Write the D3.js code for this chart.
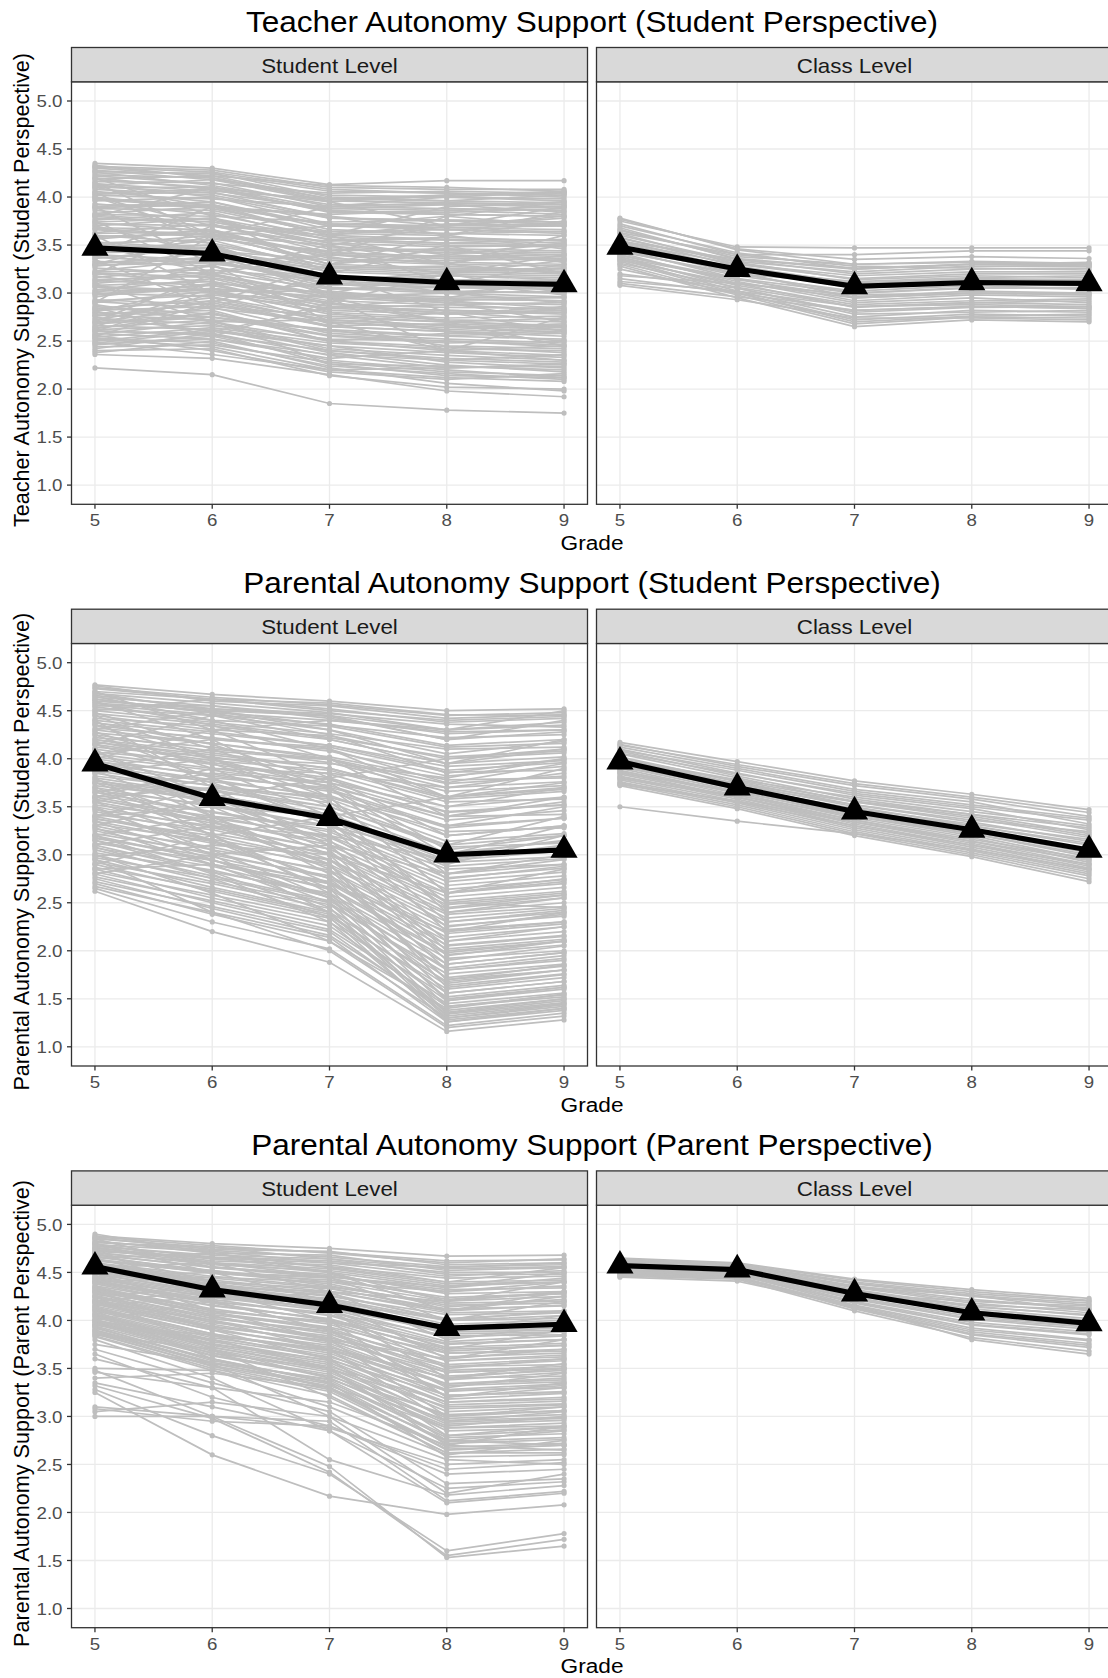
<!DOCTYPE html>
<html><head><meta charset="utf-8">
<script src="https://cdn.jsdelivr.net/npm/d3@7"></script>
<style>body{margin:0;background:#fff} text{font-family:"Liberation Sans",Arial,sans-serif}</style>
</head><body>
<svg id="c" width="1108" height="1678"></svg>
<script>
const grades = [5, 6, 7, 8, 9];
const yTicks = [1.0, 1.5, 2.0, 2.5, 3.0, 3.5, 4.0, 4.5, 5.0];
const facetLabels = ["Student Level", "Class Level"];
const chartTitles = ["Teacher Autonomy Support (Student Perspective)", "Parental Autonomy Support (Student Perspective)", "Parental Autonomy Support (Parent Perspective)"];
const yTitles = ["Teacher Autonomy Support (Student Perspective)", "Parental Autonomy Support (Student Perspective)", "Parental Autonomy Support (Parent Perspective)"];
const xTitle = "Grade";

// mean trajectories (black)
const teacherStudentMean = [3.47, 3.41, 3.17, 3.11, 3.09];
const teacherClassMean   = [3.48, 3.25, 3.07, 3.11, 3.10];
const parentStuStudentMean = [3.95, 3.59, 3.38, 3.00, 3.05];
const parentStuClassMean   = [3.97, 3.70, 3.45, 3.26, 3.05];
const parentParStudentMean = [4.56, 4.32, 4.16, 3.92, 3.96];
const parentParClassMean   = [4.57, 4.53, 4.28, 4.08, 3.97];

// individual trajectories (grey), values at grades 5..9
const teacherStudentLines = [
[2.22,2.15,1.85,1.78,1.75],[2.36,2.32,2.15,1.98,1.92],[2.40,2.42,2.14,2.02,2.00],[2.38,2.50,2.22,2.06,1.98],
[4.35,4.30,4.13,4.17,4.17],[4.32,4.28,4.10,4.08,4.08],[4.30,4.22,4.12,4.10,4.06],
[2.46,2.55,2.30,2.20,2.12],[2.50,2.62,2.38,2.25,2.18],[2.53,2.48,2.24,2.16,2.10],[2.57,2.70,2.42,2.35,2.30],
[2.60,2.58,2.35,2.22,2.26],[2.63,2.80,2.50,2.44,2.38],[2.66,2.62,2.45,2.38,2.33],[2.70,2.85,2.58,2.52,2.48],
[2.73,2.68,2.40,2.30,2.36],[2.76,2.90,2.65,2.60,2.55],[2.80,2.75,2.55,2.48,2.50],[2.83,2.95,2.70,2.62,2.66],
[2.86,2.78,2.60,2.55,2.52],[2.90,3.02,2.78,2.72,2.70],[2.93,2.88,2.65,2.60,2.62],[2.96,3.10,2.82,2.78,2.80],
[3.00,2.96,2.74,2.70,2.66],[3.03,3.15,2.88,2.85,2.84],[3.06,3.00,2.80,2.74,2.76],[3.10,3.20,2.95,2.90,2.88],
[3.13,3.08,2.86,2.82,2.80],[3.16,3.28,3.00,2.96,2.95],[3.20,3.12,2.92,2.88,2.90],[3.23,3.35,3.06,3.02,3.00],
[3.26,3.20,2.98,2.94,2.92],[3.30,3.42,3.12,3.08,3.06],[3.33,3.28,3.05,3.00,3.02],[3.36,3.48,3.18,3.14,3.12],
[3.40,3.34,3.10,3.06,3.04],[3.43,3.55,3.24,3.20,3.18],[3.46,3.40,3.16,3.12,3.14],[3.50,3.60,3.30,3.26,3.24],
[3.53,3.46,3.22,3.18,3.16],[3.56,3.66,3.36,3.32,3.30],[3.60,3.52,3.28,3.24,3.26],[3.63,3.72,3.42,3.38,3.36],
[3.66,3.58,3.34,3.30,3.28],[3.70,3.78,3.48,3.44,3.42],[3.73,3.64,3.40,3.36,3.38],[3.76,3.84,3.55,3.50,3.48],
[3.80,3.70,3.46,3.42,3.40],[3.83,3.90,3.60,3.56,3.55],[3.86,3.76,3.52,3.48,3.50],[3.90,3.95,3.66,3.62,3.60],
[3.93,3.82,3.58,3.55,3.52],[3.96,4.00,3.72,3.68,3.66],[4.00,3.88,3.64,3.62,3.64],[4.03,4.05,3.78,3.75,3.72],
[4.06,3.95,3.70,3.68,3.70],[4.10,4.10,3.84,3.82,3.80],[4.13,4.00,3.78,3.76,3.74],[4.16,4.15,3.90,3.88,3.86],
[4.20,4.08,3.85,3.84,3.88],[4.23,4.20,3.96,3.94,3.92],[4.26,4.12,3.92,3.92,3.90],[4.28,4.18,4.02,4.00,3.98],
[2.70,3.20,3.50,3.70,3.90],[4.20,3.80,3.20,2.80,2.60],[2.90,3.60,3.90,4.00,4.05],[3.90,3.30,2.70,2.40,2.30],
[2.55,2.90,3.30,3.60,3.75],[4.05,3.50,2.95,2.70,2.45],[3.20,3.70,3.60,3.30,3.50],[3.75,3.20,3.40,3.80,3.95],
[2.65,3.05,2.95,2.40,2.75],[4.15,3.60,3.50,3.10,3.30],[3.35,2.85,3.20,3.50,3.20],[2.85,2.55,2.90,3.20,3.40],
[2.48,2.60,2.45,2.28,2.22],[2.58,2.52,2.32,2.40,2.35],[2.68,2.75,2.62,2.45,2.42],[2.78,2.82,2.50,2.58,2.60],
[2.88,2.70,2.72,2.66,2.58],[2.98,3.05,2.68,2.80,2.72],[3.08,3.12,2.90,2.78,2.86],[3.18,3.02,3.02,2.92,2.84],
[3.28,3.38,3.08,3.12,2.98],[3.38,3.30,3.20,3.00,3.10],[3.48,3.50,3.12,3.22,3.20],[3.58,3.62,3.38,3.20,3.34],
[3.68,3.66,3.30,3.46,3.32],[3.78,3.74,3.52,3.40,3.52],[3.88,3.86,3.62,3.60,3.46],[3.98,3.92,3.60,3.72,3.70],
[4.08,4.02,3.80,3.70,3.78],[4.18,4.10,3.88,3.92,3.84],[4.25,4.25,4.00,3.96,4.02],[4.12,4.18,3.95,4.02,4.04],
[2.62,2.66,2.52,2.50,2.44],[2.72,2.92,2.66,2.68,2.64],[2.82,2.86,2.76,2.70,2.74],[2.92,2.98,2.84,2.88,2.82],
[3.02,3.04,2.96,3.00,2.96],[3.12,3.22,3.04,3.06,3.08],[3.22,3.24,3.14,3.18,3.14],[3.32,3.36,3.26,3.28,3.22],
[3.42,3.44,3.34,3.34,3.36],[3.52,3.56,3.44,3.46,3.44],[3.62,3.64,3.54,3.58,3.54],[3.72,3.70,3.64,3.66,3.62],
[3.82,3.80,3.74,3.76,3.74],[3.92,3.90,3.82,3.86,3.82],[4.02,3.98,3.90,3.94,3.92],[4.14,4.06,3.98,4.00,3.96],
[2.52,2.44,2.20,2.12,2.08],[2.44,2.46,2.28,2.18,2.14],[2.56,2.40,2.18,2.10,2.16],[2.64,2.72,2.26,2.24,2.20],
[3.70,3.40,3.00,2.90,2.70],[3.00,3.30,3.40,3.30,3.60],[4.00,3.70,3.50,3.30,3.20],[2.80,3.10,3.00,3.20,3.00],
[3.50,3.20,2.80,2.60,2.50],[3.30,3.60,3.70,3.80,3.70],[2.75,2.60,2.85,2.95,3.15],[4.10,3.90,3.60,3.90,3.95],
[2.47,2.52,2.36,2.30,2.26],[2.54,2.64,2.48,2.42,2.40],[2.61,2.56,2.40,2.32,2.28],[2.69,2.78,2.56,2.50,2.46],
[2.77,2.72,2.62,2.56,2.58],[2.84,2.92,2.72,2.66,2.62],[2.91,2.84,2.70,2.64,2.68],[2.99,3.08,2.86,2.82,2.78],
[3.07,3.02,2.84,2.80,2.82],[3.14,3.18,2.98,2.94,2.92],[3.21,3.16,2.96,2.92,2.96],[3.29,3.32,3.10,3.06,3.04],
[3.37,3.32,3.14,3.10,3.08],[3.44,3.50,3.28,3.24,3.22],[3.51,3.44,3.26,3.22,3.26],[3.59,3.62,3.40,3.36,3.34],
[3.67,3.60,3.42,3.38,3.40],[3.74,3.78,3.56,3.52,3.50],[3.81,3.74,3.56,3.52,3.56],[3.89,3.92,3.70,3.66,3.64],
[3.97,3.90,3.72,3.70,3.72],[4.04,4.08,3.86,3.82,3.80],[4.11,4.04,3.88,3.86,3.90],[4.19,4.22,3.98,3.96,3.94],
[4.27,4.24,4.06,4.04,4.02],[4.22,4.14,4.04,4.06,4.04],[4.31,4.26,4.08,4.04,4.00],[4.33,4.20,3.98,4.02,4.06],
[2.42,2.58,2.26,2.14,2.12],[2.49,2.36,2.20,2.22,2.24],[3.10,2.70,2.50,2.40,2.45],[2.60,3.00,3.10,3.00,2.90],
[3.80,4.10,3.95,3.70,3.80],[4.00,3.60,3.30,3.40,3.35],[3.40,3.90,3.80,3.60,3.85],[3.60,3.00,2.90,2.70,2.65]
];
const teacherClassLines = [
[3.78,3.45,3.30,3.32,3.30],[3.75,3.48,3.47,3.47,3.47],[3.72,3.40,3.40,3.44,3.44],[3.70,3.42,3.25,3.30,3.32],
[3.68,3.35,3.20,3.25,3.26],[3.65,3.38,3.30,3.33,3.31],[3.62,3.30,3.15,3.20,3.20],[3.60,3.33,3.22,3.28,3.28],
[3.58,3.28,3.10,3.15,3.14],[3.55,3.25,3.05,3.10,3.12],[3.53,3.30,3.18,3.22,3.22],[3.50,3.20,3.00,3.05,3.06],
[3.48,3.22,2.95,3.00,3.00],[3.46,3.15,2.92,2.98,2.96],[3.44,3.18,3.02,3.08,3.04],[3.42,3.10,2.85,2.90,2.92],
[3.40,3.12,2.90,2.95,2.90],[3.38,3.05,2.80,2.85,2.86],[3.36,3.08,2.88,2.92,2.94],[3.35,3.02,2.75,2.82,2.80],
[3.33,3.00,2.72,2.78,2.76],[3.30,2.98,2.68,2.75,2.74],[3.28,2.95,2.65,2.72,2.70],[3.20,3.05,2.78,2.80,2.82],
[3.15,3.00,2.70,2.76,2.78],[3.10,2.96,2.82,2.86,2.84],[3.08,2.93,2.74,2.74,2.72],[3.18,3.10,2.95,3.00,2.98],
[3.12,3.02,2.86,2.90,2.88],[3.52,3.26,3.08,3.12,3.10],[3.45,3.24,3.12,3.16,3.18],
[3.77,3.46,3.35,3.38,3.36],[3.66,3.36,3.26,3.30,3.28],[3.57,3.32,3.14,3.18,3.16],[3.47,3.24,3.06,3.10,3.08],
[3.37,3.14,2.96,3.02,3.00],[3.31,3.06,2.86,2.88,2.86],[3.25,3.00,2.82,2.86,2.84],[3.63,3.40,3.28,3.26,3.24],
[3.54,3.35,3.25,3.30,3.30],[3.43,3.20,3.10,3.14,3.14],[3.39,3.15,3.00,3.06,3.04],[3.34,3.10,2.98,3.00,2.98]
];
const parentStuStudentLines = [
[4.77,4.67,4.60,4.50,4.52],[4.74,4.64,4.56,4.45,4.48],[4.70,4.62,4.50,4.40,4.44],[4.66,4.52,4.47,4.36,4.33],
[4.62,4.48,4.40,4.28,4.30],[4.58,4.50,4.35,4.22,4.25],[4.54,4.40,4.34,4.12,4.16],[4.50,4.38,4.26,4.10,4.12],
[4.45,4.30,4.24,4.00,4.06],[4.40,4.28,4.14,3.92,3.98],[4.35,4.20,4.12,3.86,3.88],[4.30,4.16,4.02,3.78,3.80],
[4.25,4.08,3.99,3.70,3.76],[4.20,4.06,3.90,3.60,3.68],[4.15,3.98,3.88,3.55,3.58],[4.10,3.94,3.78,3.45,3.52],
[4.05,3.90,3.75,3.40,3.42],[4.00,3.82,3.68,3.30,3.38],[3.95,3.78,3.60,3.24,3.28],[3.90,3.72,3.58,3.14,3.22],
[3.85,3.66,3.50,3.08,3.12],[3.80,3.62,3.42,2.98,3.06],[3.75,3.55,3.38,2.92,2.98],[3.70,3.50,3.30,2.85,2.90],
[3.65,3.45,3.26,2.76,2.86],[3.60,3.38,3.20,2.68,2.78],[3.55,3.33,3.14,2.60,2.70],[3.50,3.28,3.06,2.52,2.62],
[3.45,3.22,3.02,2.44,2.55],[3.40,3.16,2.95,2.38,2.46],[3.35,3.12,2.90,2.30,2.40],[3.30,3.05,2.84,2.22,2.30],
[3.25,3.00,2.78,2.14,2.25],[3.20,2.94,2.72,2.06,2.16],[3.15,2.90,2.66,1.98,2.10],[3.10,2.82,2.60,1.92,2.00],
[3.05,2.78,2.52,1.82,1.95],[3.00,2.72,2.48,1.76,1.86],[2.95,2.66,2.40,1.68,1.80],[2.90,2.62,2.36,1.60,1.72],
[2.85,2.55,2.30,1.52,1.64],[2.80,2.50,2.22,1.45,1.56],[2.75,2.44,2.16,1.38,1.50],[2.70,2.38,2.10,1.30,1.42],
[2.65,2.30,2.02,1.22,1.35],[2.62,2.20,1.88,1.16,1.28],
[3.80,3.20,2.60,1.50,1.62],[4.10,3.40,2.80,1.70,1.80],[3.50,3.00,2.40,1.35,1.48],[4.40,3.70,3.10,2.00,2.10],
[3.20,2.80,2.30,1.28,1.40],[4.60,4.20,3.60,2.60,2.75],[2.90,3.20,3.40,3.60,3.90],[4.00,4.30,4.40,4.30,4.35],
[3.30,3.60,3.80,4.00,4.10],[4.70,4.30,3.80,3.20,3.30],[3.60,3.70,3.50,3.10,3.40],[3.00,2.60,2.10,1.40,1.55],
[2.80,3.00,3.10,2.80,3.00],[4.45,4.00,3.50,2.40,2.55],[3.95,3.50,3.00,1.90,2.05],[4.65,4.40,4.10,3.60,3.70],
[3.70,3.30,2.90,1.62,1.75],[4.25,3.80,3.30,2.20,2.30],[3.40,3.50,3.40,2.90,3.20],[4.55,4.55,4.45,4.30,4.50],
[3.85,4.00,3.95,3.80,4.00],[2.95,2.40,2.00,1.20,1.32],[4.15,4.45,4.20,3.95,4.20],[3.55,3.80,3.70,3.40,3.60],
[4.76,4.60,4.55,4.42,4.46],[4.68,4.58,4.48,4.30,4.38],[4.60,4.52,4.44,4.20,4.28],[4.52,4.45,4.30,4.05,4.18],
[4.42,4.34,4.20,3.95,4.02],[4.32,4.22,4.08,3.82,3.92],[4.22,4.12,3.96,3.66,3.72],[4.12,4.02,3.84,3.50,3.60],
[4.02,3.88,3.72,3.36,3.46],[3.92,3.76,3.62,3.20,3.30],[3.82,3.68,3.46,3.02,3.14],[3.72,3.58,3.36,2.88,2.96],
[3.62,3.44,3.24,2.72,2.82],[3.52,3.36,3.10,2.56,2.66],[3.42,3.26,3.00,2.40,2.50],[3.32,3.14,2.88,2.26,2.36],
[3.22,3.02,2.76,2.10,2.20],[3.12,2.94,2.64,1.96,2.06],[3.02,2.84,2.56,1.80,1.90],[2.92,2.70,2.44,1.64,1.76],
[2.82,2.58,2.34,1.48,1.60],[2.72,2.46,2.20,1.34,1.46],
[4.48,4.10,3.70,2.80,2.95],[4.28,3.90,3.40,2.50,2.60],[4.08,3.60,3.10,2.10,2.25],[3.88,3.40,2.90,1.80,1.92],
[3.68,3.20,2.70,1.56,1.68],[3.48,3.05,2.55,1.42,1.52],[3.28,2.90,2.45,1.32,1.45],[3.08,2.75,2.35,1.26,1.38],
[4.58,4.35,4.00,3.40,3.55],[4.38,4.15,3.75,3.05,3.20],[4.18,3.95,3.55,2.75,2.88],[3.98,3.75,3.35,2.45,2.58],
[3.78,3.55,3.15,2.25,2.38],[3.58,3.35,2.95,2.05,2.15],[3.38,3.15,2.75,1.86,1.98],[3.18,2.95,2.55,1.66,1.80],
[2.98,3.10,3.00,2.60,2.85],[3.20,3.40,3.30,3.00,3.30],[3.60,3.90,3.85,3.70,3.85],[4.30,4.50,4.45,4.20,4.40],
[3.90,4.10,4.00,3.60,3.75],[4.50,4.62,4.58,4.46,4.45],[3.40,3.70,3.60,3.30,3.50],[3.10,3.30,3.20,2.95,3.10],
[4.20,4.00,3.70,3.00,3.15],[3.75,3.60,3.20,2.50,2.45],[2.85,2.90,2.70,2.20,2.40],[4.62,4.48,4.25,3.85,4.00],
[4.73,4.62,4.52,4.38,4.42],[4.64,4.55,4.42,4.26,4.30],[4.56,4.46,4.36,4.14,4.20],[4.47,4.36,4.22,4.02,4.08],
[4.37,4.26,4.14,3.88,3.96],[4.27,4.16,4.00,3.74,3.82],[4.17,4.04,3.90,3.58,3.66],[4.07,3.96,3.80,3.44,3.52],
[3.97,3.84,3.66,3.28,3.38],[3.87,3.72,3.54,3.10,3.20],[3.77,3.62,3.42,2.94,3.04],[3.67,3.52,3.30,2.80,2.90],
[3.57,3.40,3.18,2.64,2.74],[3.47,3.30,3.06,2.48,2.58],[3.37,3.20,2.94,2.34,2.44],[3.27,3.08,2.82,2.18,2.28],
[3.17,2.98,2.70,2.02,2.12],[3.07,2.88,2.58,1.86,1.98],[2.97,2.76,2.50,1.72,1.84],[2.87,2.64,2.38,1.56,1.68],
[2.77,2.52,2.26,1.42,1.54],[2.67,2.40,2.14,1.26,1.40],
[4.35,4.00,3.60,2.60,2.72],[4.15,3.80,3.35,2.30,2.42],[3.95,3.55,3.05,1.95,2.10],[3.75,3.35,2.85,1.70,1.85],
[3.55,3.15,2.65,1.48,1.62],[3.35,2.95,2.50,1.36,1.50],[3.15,2.82,2.40,1.30,1.44],
[4.68,4.50,4.30,3.95,4.10],[4.05,4.20,4.10,3.75,3.95],[3.65,3.85,3.75,3.50,3.70]
];
const parentStuClassLines = [
[4.17,3.97,3.77,3.63,3.47],[4.15,3.92,3.72,3.58,3.40],[4.12,3.90,3.68,3.55,3.32],[4.10,3.85,3.62,3.48,3.26],
[4.08,3.82,3.58,3.42,3.22],[4.05,3.80,3.55,3.38,3.18],[4.02,3.76,3.52,3.34,3.14],[4.00,3.74,3.50,3.30,3.10],
[3.98,3.72,3.46,3.26,3.06],[3.96,3.70,3.44,3.24,3.02],[3.94,3.68,3.42,3.22,2.98],[3.92,3.66,3.40,3.20,2.95],
[3.90,3.64,3.38,3.18,2.92],[3.88,3.62,3.36,3.14,2.90],[3.86,3.60,3.34,3.12,2.88],[3.84,3.60,3.32,3.10,2.86],
[3.82,3.58,3.30,3.08,2.84],[3.80,3.56,3.28,3.06,2.82],[3.78,3.54,3.26,3.04,2.80],[3.76,3.52,3.24,3.02,2.78],
[3.74,3.50,3.22,3.00,2.75],[3.72,3.48,3.20,2.98,2.72],[3.50,3.35,3.22,3.05,2.85],[4.00,3.78,3.60,3.45,3.30],
[3.95,3.74,3.55,3.40,3.20],
[4.14,3.94,3.74,3.60,3.44],[4.06,3.84,3.64,3.50,3.36],[3.99,3.77,3.56,3.42,3.28],[3.93,3.70,3.48,3.32,3.16],
[3.87,3.65,3.42,3.24,3.04],[3.81,3.60,3.36,3.16,2.96],[3.75,3.55,3.30,3.10,2.90],[4.09,3.88,3.66,3.52,3.38],
[3.91,3.72,3.52,3.36,3.24],[3.85,3.66,3.46,3.30,3.12],[3.79,3.62,3.40,3.22,3.00],[3.73,3.56,3.34,3.14,2.94]
];
const parentParStudentLines = [
[4.88,4.80,4.75,4.67,4.68],[4.85,4.76,4.71,4.62,4.63],[4.82,4.73,4.66,4.56,4.58],[4.78,4.66,4.62,4.50,4.50],
[4.75,4.64,4.56,4.44,4.46],[4.71,4.58,4.52,4.36,4.40],[4.68,4.56,4.46,4.32,4.34],[4.64,4.49,4.42,4.24,4.28],
[4.60,4.46,4.35,4.18,4.20],[4.57,4.40,4.33,4.12,4.15],[4.53,4.37,4.25,4.06,4.08],[4.50,4.32,4.23,4.00,4.02],
[4.46,4.28,4.15,3.94,3.96],[4.43,4.24,4.13,3.88,3.90],[4.40,4.19,4.08,3.84,3.85],[4.36,4.16,4.01,3.75,3.80],
[4.33,4.10,3.99,3.70,3.74],[4.30,4.08,3.93,3.66,3.68],[4.26,4.02,3.89,3.58,3.62],[4.22,3.98,3.82,3.52,3.54],
[4.19,3.93,3.79,3.46,3.50],[4.15,3.90,3.72,3.40,3.42],[4.12,3.84,3.69,3.34,3.38],[4.08,3.80,3.62,3.27,3.30],
[4.05,3.75,3.59,3.22,3.25],[4.01,3.72,3.52,3.15,3.18],[3.98,3.66,3.50,3.10,3.13],[3.94,3.63,3.42,3.02,3.06],
[3.90,3.56,3.39,2.96,2.99],[3.86,3.53,3.32,2.88,2.93],
[4.70,4.40,4.10,3.40,3.50],[4.50,4.10,3.80,3.00,3.10],[4.80,4.50,4.20,3.60,3.70],[4.30,3.90,3.60,2.80,2.90],
[4.60,4.30,4.00,3.20,3.30],[4.10,3.60,3.30,2.65,2.70],[4.40,4.45,4.40,4.30,4.40],[4.00,4.20,4.30,4.20,4.30],
[4.85,4.55,4.45,4.00,4.20],[3.95,3.80,3.50,2.70,2.65],[4.20,4.30,4.10,3.70,3.90],[4.65,4.70,4.55,4.40,4.55],
[4.75,4.20,3.90,3.30,3.45],[4.55,4.60,4.50,4.10,4.30],[4.25,3.70,3.40,2.90,3.00],[4.90,4.70,4.50,4.20,4.40],
[3.80,3.40,2.85,2.10,2.20],[3.75,3.55,3.00,2.55,2.50],[3.70,3.35,3.05,2.30,2.35],[3.65,3.20,2.90,2.40,2.45],
[3.50,3.48,3.10,2.60,2.75],[3.48,3.00,2.48,1.53,1.65],[3.46,3.30,2.55,2.18,2.28],[3.35,3.10,2.85,2.25,2.32],
[3.32,2.98,2.42,1.55,1.72],[3.28,2.80,2.40,1.60,1.78],[3.25,2.60,2.17,1.98,2.08],[3.10,3.00,2.95,2.12,2.22],
[3.05,3.15,3.00,2.20,2.40],[3.00,3.00,2.88,2.50,2.55],[3.85,3.70,3.20,2.62,2.62],[3.60,3.30,3.15,2.70,2.90],
[3.40,3.45,3.30,2.75,2.70],[3.90,3.60,3.35,2.58,2.60],[3.08,2.95,2.90,2.45,2.52],
[4.87,4.78,4.70,4.60,4.64],[4.83,4.70,4.68,4.52,4.55],[4.79,4.72,4.60,4.46,4.52],[4.76,4.62,4.58,4.40,4.42],
[4.73,4.66,4.50,4.34,4.44],[4.69,4.55,4.48,4.28,4.30],[4.66,4.52,4.40,4.20,4.25],[4.62,4.50,4.38,4.14,4.22],
[4.58,4.42,4.30,4.08,4.10],[4.55,4.40,4.28,4.00,4.05],[4.51,4.34,4.20,3.92,3.98],[4.48,4.30,4.18,3.86,3.88],
[4.44,4.24,4.10,3.78,3.84],[4.41,4.22,4.05,3.72,3.76],[4.38,4.15,4.02,3.66,3.70],[4.34,4.12,3.96,3.58,3.64],
[4.31,4.06,3.92,3.52,3.58],[4.28,4.04,3.86,3.46,3.50],[4.24,3.98,3.84,3.38,3.46],[4.20,3.96,3.76,3.32,3.36],
[4.17,3.90,3.74,3.26,3.32],[4.13,3.86,3.66,3.18,3.24],[4.10,3.82,3.64,3.12,3.16],[4.06,3.76,3.56,3.05,3.10],
[4.03,3.74,3.54,2.98,3.02],[3.99,3.68,3.46,2.92,2.96],[3.96,3.64,3.44,2.85,2.88],[3.92,3.60,3.36,2.78,2.82],
[3.88,3.55,3.34,2.72,2.76],[3.84,3.50,3.26,2.66,2.70],
[4.80,4.60,4.30,3.80,3.95],[4.60,4.40,4.10,3.50,3.60],[4.40,4.20,3.90,3.20,3.35],[4.20,4.00,3.70,2.95,3.05],
[4.00,3.80,3.50,2.75,2.85],[4.72,4.65,4.60,4.55,4.60],[4.45,4.50,4.45,4.35,4.50],[4.15,4.25,4.20,4.00,4.10],
[4.35,4.05,3.80,3.60,3.80],[4.65,4.35,4.20,3.90,4.05],[3.95,3.85,3.70,3.40,3.55],[4.25,4.35,4.30,4.10,4.25],
[4.86,4.74,4.72,4.58,4.60],[4.81,4.76,4.64,4.54,4.56],[4.77,4.68,4.64,4.48,4.48],[4.74,4.60,4.54,4.38,4.40],
[4.70,4.60,4.46,4.30,4.36],[4.67,4.50,4.44,4.22,4.28],[4.63,4.52,4.36,4.16,4.18],[4.59,4.44,4.34,4.10,4.16],
[4.56,4.38,4.26,4.02,4.08],[4.52,4.36,4.22,3.96,4.00],[4.49,4.28,4.16,3.90,3.92],[4.45,4.26,4.12,3.82,3.88],
[4.42,4.20,4.06,3.76,3.80],[4.39,4.18,4.00,3.68,3.74],[4.35,4.10,3.98,3.62,3.66],[4.32,4.08,3.90,3.54,3.60],
[4.29,4.02,3.88,3.48,3.52],[4.25,4.00,3.80,3.42,3.48],[4.21,3.94,3.78,3.34,3.40],[4.18,3.92,3.70,3.28,3.34],
[4.14,3.86,3.68,3.22,3.26],[4.11,3.84,3.60,3.15,3.20],[4.07,3.78,3.58,3.08,3.12],[4.04,3.72,3.50,3.00,3.06],
[4.00,3.70,3.48,2.94,2.98],[3.97,3.66,3.40,2.88,2.90],[3.93,3.58,3.38,2.80,2.86],[3.89,3.56,3.30,2.74,2.78],
[3.87,3.52,3.28,2.68,2.72],[3.83,3.48,3.22,2.62,2.66]
];
const parentParClassLines = [
[4.65,4.60,4.43,4.32,4.23],[4.63,4.58,4.40,4.28,4.20],[4.62,4.58,4.38,4.25,4.16],[4.61,4.57,4.36,4.22,4.12],
[4.60,4.56,4.34,4.18,4.08],[4.59,4.55,4.32,4.15,4.05],[4.58,4.55,4.30,4.12,4.02],[4.57,4.54,4.28,4.10,4.00],
[4.56,4.53,4.26,4.07,3.97],[4.55,4.52,4.24,4.04,3.94],[4.54,4.51,4.22,4.01,3.91],[4.53,4.50,4.20,3.98,3.88],
[4.52,4.49,4.18,3.95,3.85],[4.51,4.48,4.16,3.92,3.80],[4.50,4.46,4.14,3.88,3.76],[4.48,4.45,4.12,3.85,3.72],
[4.46,4.43,4.10,3.82,3.68],[4.45,4.41,4.15,3.80,3.65],[4.58,4.50,4.27,4.20,4.15],[4.54,4.47,4.35,4.26,4.10],
[4.64,4.59,4.42,4.30,4.21],[4.62,4.57,4.39,4.26,4.18],[4.60,4.55,4.35,4.20,4.13],[4.57,4.53,4.31,4.14,4.06],
[4.55,4.51,4.27,4.08,3.99],[4.53,4.49,4.23,4.02,3.93],[4.51,4.47,4.19,3.96,3.86],[4.49,4.45,4.15,3.90,3.79],
[4.47,4.44,4.13,3.86,3.74],[4.56,4.50,4.30,4.16,4.11]
];

const rows = [
  {lines: [teacherStudentLines, teacherClassLines], means: [teacherStudentMean, teacherClassMean]},
  {lines: [parentStuStudentLines, parentStuClassLines], means: [parentStuStudentMean, parentStuClassMean]},
  {lines: [parentParStudentLines, parentParClassLines], means: [parentParStudentMean, parentParClassMean]}
];

const svg = d3.select("#c");
const panelLefts = [71.5, 596.5], panelW = 516;
const rowStep = 561.7, firstStrip = 47.5, stripH = 34.3, panelSpan = 456.8;
const grey = "#bebebe", border = "#333333";
const SX = 1.08;

function hText(g, x, y, str, size, anchor, fill) {
  return g.append("text").attr("transform", `translate(${x},${y}) scale(${SX},1)`)
    .attr("text-anchor", anchor).attr("font-size", size).attr("fill", fill).text(str);
}

rows.forEach((row, ri) => {
  const stripTop = firstStrip + ri * rowStep;
  const pTop = stripTop + stripH, pBot = stripTop + panelSpan;
  const y = d3.scaleLinear([0.8, 5.2], [pBot, pTop]);
  const centerX = (panelLefts[0] + panelLefts[1] + panelW) / 2;
  const g = svg.append("g");

  hText(g, centerX, stripTop - 15.8, chartTitles[ri], 29.2, "middle", "#000");
  g.append("text").attr("transform", `translate(28.6,${(pTop + pBot) / 2 - 3}) rotate(-90)`)
    .attr("text-anchor", "middle").attr("font-size", 21.6).attr("fill", "#000").text(yTitles[ri]);
  hText(g, centerX, pBot + 45.7, xTitle, 21, "middle", "#000");

  facetLabels.forEach((lab, pi) => {
    const L = panelLefts[pi];
    const x = d3.scaleLinear([4.8, 9.2], [L, L + panelW]);
    const pg = g.append("g");
    pg.selectAll(".gy").data(yTicks).join("line")
      .attr("x1", L).attr("x2", L + panelW).attr("y1", d => y(d)).attr("y2", d => y(d))
      .attr("stroke", "#ebebeb").attr("stroke-width", 1.3);
    pg.selectAll(".gx").data(grades).join("line")
      .attr("x1", d => x(d)).attr("x2", d => x(d)).attr("y1", pTop).attr("y2", pBot)
      .attr("stroke", "#ebebeb").attr("stroke-width", 1.3);
    const line = d3.line().x((d, i) => x(grades[i])).y(d => y(d));
    const data = row.lines[pi];
    pg.append("g").selectAll("path").data(data).join("path")
      .attr("d", line).attr("fill", "none").attr("stroke", grey).attr("stroke-width", 1.7);
    const pts = data.flatMap(arr => arr.map((v, i) => [grades[i], v]));
    pg.append("g").selectAll("circle").data(pts).join("circle")
      .attr("cx", d => x(d[0])).attr("cy", d => y(d[1])).attr("r", 2.6).attr("fill", grey);
    const m = row.means[pi];
    pg.append("path").attr("d", line(m)).attr("fill", "none").attr("stroke", "#000")
      .attr("stroke-width", 5.2).attr("stroke-linejoin", "round");
    pg.append("g").selectAll("path").data(m).join("path")
      .attr("transform", (d, i) => `translate(${x(grades[i])},${y(d)})`)
      .attr("d", d3.symbol(d3.symbolTriangle, 320)).attr("fill", "#000");
    pg.append("rect").attr("x", L).attr("y", pTop).attr("width", panelW).attr("height", pBot - pTop)
      .attr("fill", "none").attr("stroke", border).attr("stroke-width", 1.3);
    pg.append("rect").attr("x", L).attr("y", stripTop).attr("width", panelW).attr("height", stripH)
      .attr("fill", "#d9d9d9").attr("stroke", border).attr("stroke-width", 1.3);
    hText(pg, L + panelW / 2, stripTop + 25.2, lab, 20.7, "middle", "#1a1a1a");
    const xa = pg.append("g");
    xa.selectAll("line").data(grades).join("line")
      .attr("x1", d => x(d)).attr("x2", d => x(d)).attr("y1", pBot).attr("y2", pBot + 4.5)
      .attr("stroke", border).attr("stroke-width", 1.3);
    grades.forEach(gv => hText(xa, x(gv), pBot + 22, String(gv), 17.3, "middle", "#4d4d4d"));
    if (pi === 0) {
      const ya = pg.append("g");
      ya.selectAll("line").data(yTicks).join("line")
        .attr("x1", L - 4.5).attr("x2", L).attr("y1", d => y(d)).attr("y2", d => y(d))
        .attr("stroke", border).attr("stroke-width", 1.3);
      yTicks.forEach(t => hText(ya, L - 9, y(t) + 6.2, t.toFixed(1), 17.3, "end", "#4d4d4d"));
    }
  });
});
</script>
</body></html>
